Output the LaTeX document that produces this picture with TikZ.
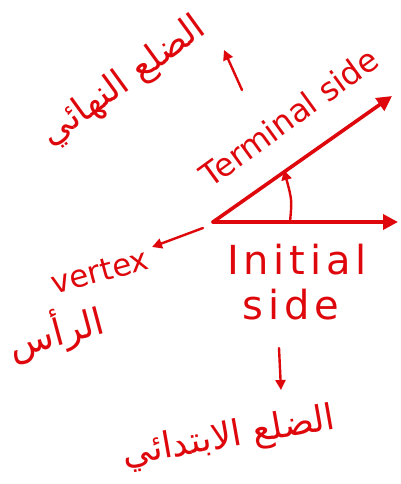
\documentclass[tikz,border=0pt]{standalone}
\usepackage{fontspec}
\setmainfont{DejaVu Sans}
\newfontfamily\widefont[LetterSpace=12]{DejaVu Sans}
\newfontfamily\arabicfont[Script=Arabic]{DejaVu Sans}
\TeXXeTstate=1
\usetikzlibrary{arrows.meta}
\definecolor{ink}{RGB}{222,8,12}

\begin{document}
\begin{tikzpicture}[x=1pt, y=-1pt,
    pen/.style={draw=ink, line width=3.6pt, line cap=round, -{Triangle[length=15pt, width=15pt]}},
    thin pen/.style={draw=ink, line width=2.4pt, line cap=round, -{Triangle[length=10pt, width=10pt]}},
    lbl/.style={text=ink, inner sep=0pt, font=\fontsize{32}{36}\selectfont},
    arb/.style={text=ink, inner sep=0pt, font=\arabicfont\fontsize{36}{40}\selectfont}]
    \useasboundingbox (0,0) rectangle (401,484);
    % the angle
    \coordinate (vertex) at (213,222);
    \coordinate (initial end) at (398,222);
    \coordinate (terminal end) at (392,96);
    \draw[pen] (vertex) -- (initial end);
    \draw[pen] (vertex) -- (terminal end);
    \coordinate (arc start) at (290,222);
    \coordinate (arc end) at (284,170);
    \draw[thin pen] (arc start) .. controls (292,200) .. (arc end);
    % labels
    \node[lbl, rotate=36] (terminal) at (289,117) {Terminal side};
    \node[arb, rotate=36] (terminal ar) at (124,82) {\beginR الضلع النهائي\endR};
    \coordinate (up tail) at (242,90);
    \coordinate (up head) at (224,50);
    \draw[thin pen] (up tail) -- (up head);
    \coordinate (vertex tail) at (203,228);
    \coordinate (vertex head) at (152,247);
    \draw[thin pen] (vertex tail) -- (vertex head);
    \node[lbl, font=\fontsize{31}{34}\selectfont, rotate=15] (vertex label) at (100,271) {vertex};
    \node[arb, font=\arabicfont\fontsize{37}{40}\selectfont, rotate=15] (vertex ar) at (56,332) {\beginR الرأس\endR};
    \node[lbl, font=\widefont\fontsize{40}{44}\selectfont] (initial) at (297,260) {Initial};
    \node[lbl, font=\widefont\fontsize{40}{44}\selectfont] (side) at (291,305) {side};
    \coordinate (down tail) at (279,348);
    \coordinate (down head) at (281,390);
    \draw[thin pen] (down tail) -- (down head);
    \node[arb, rotate=10] (initial ar) at (229,438) {\beginR الضلع الابتدائي\endR};
\end{tikzpicture}
\end{document}
